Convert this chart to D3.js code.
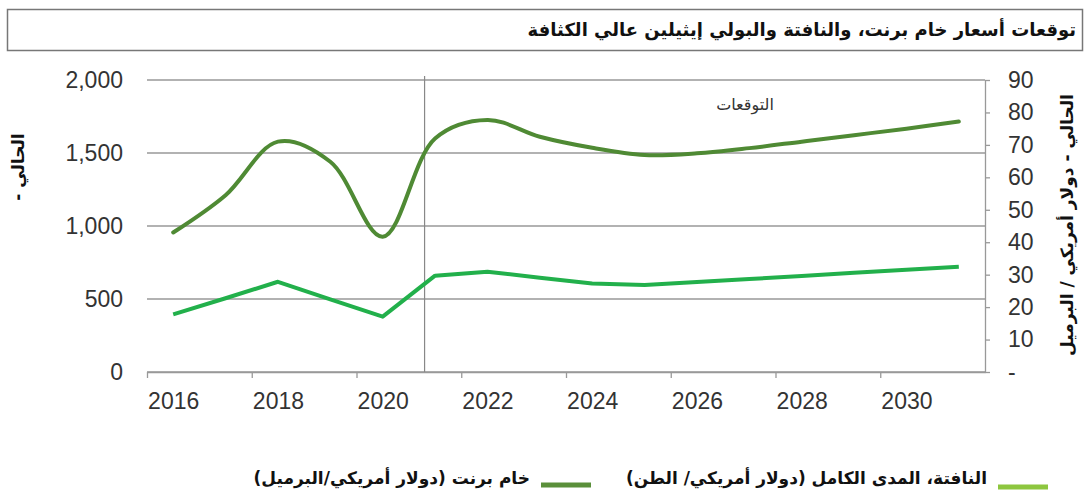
<!DOCTYPE html>
<html lang="ar">
<head>
  <meta charset="UTF-8">
  <title>توقعات أسعار خام برنت، والنافتة والبولي إيثيلين عالي الكثافة</title>
  <script src="https://d3js.org/d3.v7.min.js"></script>
  <style>
    body { margin: 0; background: #fff; }
    svg { display: block; background: #fff; }
    .tick text { font-family: "Liberation Sans", Arial, sans-serif; font-size: 23px; fill: #333; }
    .ar { font-family: "DejaVu Sans", sans-serif; direction: rtl; unicode-bidi: embed; }
  </style>
</head>
<body>
<svg width="1091" height="498"></svg>

<script>
  // Années (une valeur par an)
  const years = [2016, 2017, 2018, 2019, 2020, 2021, 2022, 2023, 2024, 2025, 2026, 2027, 2028, 2029, 2030, 2031];
  // Brent ($/baril) - axe droit
  const brent = [43, 54.5, 71, 64.8, 41.7, 72, 77.7, 72.5, 69.1, 66.9, 67.4, 69, 71, 73, 75, 77.2];
  // Naphta ($/tonne) - axe gauche
  const naphtha = [395, 505, 618, 498, 379, 660, 687, 645, 606, 596, 616, 637, 658, 679, 700, 721];

  const yearLabels = [2016, 2018, 2020, 2022, 2024, 2026, 2028, 2030];
  const leftTicks = [0, 500, 1000, 1500, 2000];
  const rightTicks = [0, 10, 20, 30, 40, 50, 60, 70, 80, 90];
  const forecastStart = 2020.8;

  const title = "توقعات أسعار خام برنت، والنافتة والبولي إيثيلين عالي الكثافة";
  const leftLabel = "الحالي -";
  const rightLabel = "الحالي - دولار أمريكي / البرميل";
  const forecastLabel = "التوقعات";
  const seriesNames = ["النافتة، المدى الكامل (دولار أمريكي/ الطن)", "خام برنت (دولار أمريكي/البرميل)"];

  const svg = d3.select("svg");
  const plot = {left: 147, right: 985, top: 80, bottom: 372};

  const x = d3.scaleLinear().domain([2015.5, 2031.5]).range([plot.left, plot.right]);
  const yL = d3.scaleLinear().domain([0, 2000]).range([plot.bottom, plot.top]);
  const yR = d3.scaleLinear().domain([0, 90]).range([plot.bottom, plot.top]);

  const cBrent = "#4f8a34", cNaphtha = "#22b04b";

  // Titre encadré
  svg.append("rect")
    .attr("x", 7.5).attr("y", 9.5).attr("width", 1075).attr("height", 41)
    .attr("fill", "none").attr("stroke", "#777").attr("stroke-width", 1.5);
  svg.append("text").attr("class", "ar")
    .attr("x", 1076).attr("y", 36)
    .attr("text-anchor", "start")
    .attr("font-size", 18).attr("font-weight", "bold").attr("fill", "#111")
    .text(title);

  // Grille horizontale
  svg.append("g")
    .selectAll("line")
    .data(leftTicks)
    .join("line")
      .attr("x1", plot.left).attr("x2", plot.right)
      .attr("y1", d => yL(d)).attr("y2", d => yL(d))
      .attr("stroke", "#999").attr("stroke-width", 1.3);

  // Axe gauche
  const gL = svg.append("g")
    .attr("transform", `translate(${plot.left},0)`)
    .call(d3.axisLeft(yL).tickValues(leftTicks).tickSize(0).tickPadding(24).tickFormat(d3.format(",")));
  gL.select(".domain").remove();

  // Axe droit
  const gR = svg.append("g")
    .attr("transform", `translate(${plot.right},0)`)
    .call(d3.axisRight(yR).tickValues(rightTicks).tickSize(5).tickSizeOuter(0).tickPadding(18)
      .tickFormat(d => d === 0 ? "-" : d));
  gR.selectAll("line, .domain").attr("stroke", "#999").attr("stroke-width", 1.3);

  // Axe X : traits aux limites, étiquettes au centre des années
  const gX = svg.append("g")
    .attr("transform", `translate(0,${plot.bottom})`)
    .call(d3.axisBottom(x).tickValues(d3.range(2015.5, 2031, 2)).tickSize(6).tickSizeOuter(0).tickFormat(""));
  gX.selectAll("line, .domain").attr("stroke", "#999").attr("stroke-width", 1.3);

  const gXL = svg.append("g")
    .attr("transform", `translate(0,${plot.bottom})`)
    .call(d3.axisBottom(x).tickValues(yearLabels).tickSize(0).tickPadding(21).tickFormat(d3.format("d")));
  gXL.select(".domain").remove();

  // Ligne verticale des prévisions
  svg.append("line")
    .attr("x1", x(forecastStart)).attr("x2", x(forecastStart))
    .attr("y1", plot.top - 4).attr("y2", plot.bottom)
    .attr("stroke", "#888").attr("stroke-width", 1.2);
  svg.append("text").attr("class", "ar")
    .attr("x", 745).attr("y", 110)
    .attr("text-anchor", "middle")
    .attr("font-size", 16).attr("fill", "#333")
    .text(forecastLabel);

  // Courbes
  const lineBrent = d3.line()
    .x((d, i) => x(years[i]))
    .y(d => yR(d))
    .curve(d3.curveCatmullRom.alpha(0.5));
  const lineNaphtha = d3.line()
    .x((d, i) => x(years[i]))
    .y(d => yL(d));

  svg.append("path").datum(naphtha)
    .attr("d", lineNaphtha)
    .attr("fill", "none").attr("stroke", cNaphtha).attr("stroke-width", 4)
    .attr("stroke-linejoin", "round");
  svg.append("path").datum(brent)
    .attr("d", lineBrent)
    .attr("fill", "none").attr("stroke", cBrent).attr("stroke-width", 4)
    .attr("stroke-linecap", "round");

  // Titres des axes
  svg.append("text").attr("class", "ar")
    .attr("transform", "translate(24,167) rotate(-90)")
    .attr("text-anchor", "middle")
    .attr("font-size", 17).attr("font-weight", "bold").attr("fill", "#111")
    .text(leftLabel);
  svg.append("text").attr("class", "ar")
    .attr("transform", "translate(1073,225) rotate(-90)")
    .attr("text-anchor", "middle")
    .attr("font-size", 17).attr("font-weight", "bold").attr("fill", "#111")
    .text(rightLabel);

  // Légende
  const legendItems = [
    {name: seriesNames[0], color: "#8dc63f", x: 998, y: 487},
    {name: seriesNames[1], color: "#5a8f3a", x: 541, y: 485}
  ];
  const legend = svg.append("g");
  legendItems.forEach(d => {
    legend.append("rect")
      .attr("x", d.x).attr("y", d.y - 2.5)
      .attr("width", 50).attr("height", 5)
      .attr("fill", d.color);
    legend.append("text").attr("class", "ar")
      .attr("x", d.x - 11).attr("y", 484)
      .attr("text-anchor", "start")
      .attr("font-size", 17).attr("font-weight", "bold").attr("fill", "#111")
      .text(d.name);
  });
</script>

</body>
</html>
